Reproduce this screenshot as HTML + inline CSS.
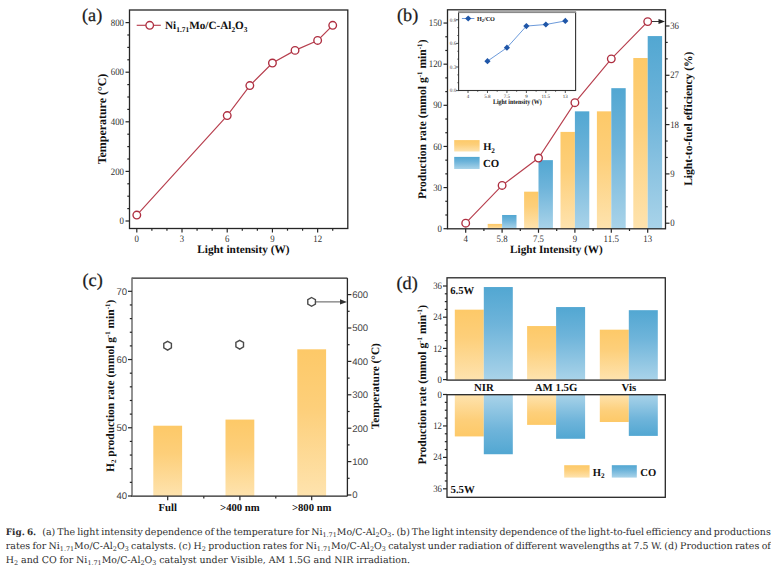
<!DOCTYPE html>
<html><head><meta charset="utf-8"><title>Fig. 6</title>
<style>
html,body{margin:0;padding:0;background:#fff;text-rendering:geometricPrecision;}
body{width:780px;height:570px;position:relative;overflow:hidden;}
svg{position:absolute;left:0;top:0;text-rendering:geometricPrecision;}
.cap{position:absolute;left:5.8px;top:0;width:765px;font-family:'DejaVu Serif','Liberation Serif',serif;font-size:9.45px;color:#2e2e2e;}
.cap .l{position:absolute;left:0;width:765px;height:14px;line-height:14px;white-space:nowrap;overflow:hidden;}
.cap .j{text-align:justify;text-align-last:justify;white-space:normal;word-spacing:-1.5px;}
.cap sub{font-size:6.4px;vertical-align:-1.9px;line-height:0;}
.cap b{font-weight:bold;font-size:8.9px;margin-right:2px;}
</style></head><body>
<svg width="780" height="570" viewBox="0 0 780 570">
<defs>
<linearGradient id="gH" x1="0" y1="0" x2="0" y2="1"><stop offset="0" stop-color="#fdc968"/><stop offset="0.4" stop-color="#fdcf7a"/><stop offset="1" stop-color="#fee3ae"/></linearGradient>
<linearGradient id="gC" x1="0" y1="0" x2="0" y2="1"><stop offset="0" stop-color="#52a7d2"/><stop offset="0.4" stop-color="#6eb4da"/><stop offset="1" stop-color="#a9d3e9"/></linearGradient>
<linearGradient id="gHr" x1="0" y1="1" x2="0" y2="0"><stop offset="0" stop-color="#fdc968"/><stop offset="0.4" stop-color="#fdcf7a"/><stop offset="1" stop-color="#fee3ae"/></linearGradient>
<linearGradient id="gCr" x1="0" y1="1" x2="0" y2="0"><stop offset="0" stop-color="#52a7d2"/><stop offset="0.4" stop-color="#6eb4da"/><stop offset="1" stop-color="#a9d3e9"/></linearGradient>
</defs>
<rect x="129.5" y="10.0" width="218.30" height="218.50" fill="none" stroke="#262626" stroke-width="1.3"/>
<line x1="136.80" y1="228.50" x2="136.80" y2="232.50" stroke="#262626" stroke-width="1.2" />
<text x="136.80" y="241.80" font-size="9.9" text-anchor="middle" font-family="'Liberation Serif', 'Times New Roman', serif" fill="#333333" textLength="4.40" lengthAdjust="spacingAndGlyphs">0</text>
<line x1="151.87" y1="228.50" x2="151.87" y2="230.70" stroke="#262626" stroke-width="1.2" />
<line x1="166.94" y1="228.50" x2="166.94" y2="230.70" stroke="#262626" stroke-width="1.2" />
<line x1="182.01" y1="228.50" x2="182.01" y2="232.50" stroke="#262626" stroke-width="1.2" />
<text x="182.01" y="241.80" font-size="9.9" text-anchor="middle" font-family="'Liberation Serif', 'Times New Roman', serif" fill="#333333" textLength="4.40" lengthAdjust="spacingAndGlyphs">3</text>
<line x1="197.08" y1="228.50" x2="197.08" y2="230.70" stroke="#262626" stroke-width="1.2" />
<line x1="212.15" y1="228.50" x2="212.15" y2="230.70" stroke="#262626" stroke-width="1.2" />
<line x1="227.22" y1="228.50" x2="227.22" y2="232.50" stroke="#262626" stroke-width="1.2" />
<text x="227.22" y="241.80" font-size="9.9" text-anchor="middle" font-family="'Liberation Serif', 'Times New Roman', serif" fill="#333333" textLength="4.40" lengthAdjust="spacingAndGlyphs">6</text>
<line x1="242.29" y1="228.50" x2="242.29" y2="230.70" stroke="#262626" stroke-width="1.2" />
<line x1="257.36" y1="228.50" x2="257.36" y2="230.70" stroke="#262626" stroke-width="1.2" />
<line x1="272.43" y1="228.50" x2="272.43" y2="232.50" stroke="#262626" stroke-width="1.2" />
<text x="272.43" y="241.80" font-size="9.9" text-anchor="middle" font-family="'Liberation Serif', 'Times New Roman', serif" fill="#333333" textLength="4.40" lengthAdjust="spacingAndGlyphs">9</text>
<line x1="287.50" y1="228.50" x2="287.50" y2="230.70" stroke="#262626" stroke-width="1.2" />
<line x1="302.57" y1="228.50" x2="302.57" y2="230.70" stroke="#262626" stroke-width="1.2" />
<line x1="317.64" y1="228.50" x2="317.64" y2="232.50" stroke="#262626" stroke-width="1.2" />
<text x="317.64" y="241.80" font-size="9.9" text-anchor="middle" font-family="'Liberation Serif', 'Times New Roman', serif" fill="#333333" textLength="8.80" lengthAdjust="spacingAndGlyphs">12</text>
<line x1="332.71" y1="228.50" x2="332.71" y2="230.70" stroke="#262626" stroke-width="1.2" />
<line x1="129.50" y1="221.00" x2="125.50" y2="221.00" stroke="#262626" stroke-width="1.2" />
<text x="124.00" y="224.10" font-size="9.9" text-anchor="end" font-family="'Liberation Serif', 'Times New Roman', serif" fill="#333333" textLength="4.40" lengthAdjust="spacingAndGlyphs">0</text>
<line x1="129.50" y1="208.60" x2="127.30" y2="208.60" stroke="#262626" stroke-width="1.2" />
<line x1="129.50" y1="196.20" x2="127.30" y2="196.20" stroke="#262626" stroke-width="1.2" />
<line x1="129.50" y1="183.80" x2="127.30" y2="183.80" stroke="#262626" stroke-width="1.2" />
<line x1="129.50" y1="171.40" x2="125.50" y2="171.40" stroke="#262626" stroke-width="1.2" />
<text x="124.00" y="174.50" font-size="9.9" text-anchor="end" font-family="'Liberation Serif', 'Times New Roman', serif" fill="#333333" textLength="13.20" lengthAdjust="spacingAndGlyphs">200</text>
<line x1="129.50" y1="159.00" x2="127.30" y2="159.00" stroke="#262626" stroke-width="1.2" />
<line x1="129.50" y1="146.60" x2="127.30" y2="146.60" stroke="#262626" stroke-width="1.2" />
<line x1="129.50" y1="134.20" x2="127.30" y2="134.20" stroke="#262626" stroke-width="1.2" />
<line x1="129.50" y1="121.80" x2="125.50" y2="121.80" stroke="#262626" stroke-width="1.2" />
<text x="124.00" y="124.90" font-size="9.9" text-anchor="end" font-family="'Liberation Serif', 'Times New Roman', serif" fill="#333333" textLength="13.20" lengthAdjust="spacingAndGlyphs">400</text>
<line x1="129.50" y1="109.40" x2="127.30" y2="109.40" stroke="#262626" stroke-width="1.2" />
<line x1="129.50" y1="97.00" x2="127.30" y2="97.00" stroke="#262626" stroke-width="1.2" />
<line x1="129.50" y1="84.60" x2="127.30" y2="84.60" stroke="#262626" stroke-width="1.2" />
<line x1="129.50" y1="72.20" x2="125.50" y2="72.20" stroke="#262626" stroke-width="1.2" />
<text x="124.00" y="75.30" font-size="9.9" text-anchor="end" font-family="'Liberation Serif', 'Times New Roman', serif" fill="#333333" textLength="13.20" lengthAdjust="spacingAndGlyphs">600</text>
<line x1="129.50" y1="59.80" x2="127.30" y2="59.80" stroke="#262626" stroke-width="1.2" />
<line x1="129.50" y1="47.40" x2="127.30" y2="47.40" stroke="#262626" stroke-width="1.2" />
<line x1="129.50" y1="35.00" x2="127.30" y2="35.00" stroke="#262626" stroke-width="1.2" />
<line x1="129.50" y1="22.60" x2="125.50" y2="22.60" stroke="#262626" stroke-width="1.2" />
<text x="124.00" y="25.70" font-size="9.9" text-anchor="end" font-family="'Liberation Serif', 'Times New Roman', serif" fill="#333333" textLength="13.20" lengthAdjust="spacingAndGlyphs">800</text>
<polyline points="136.80,215.05 227.22,115.60 249.83,85.59 272.43,63.02 295.04,50.38 317.64,40.46 332.71,25.33" fill="none" stroke="#b73f4e" stroke-width="1.15"/>
<circle cx="136.80" cy="215.05" r="3.8" fill="#fff" stroke="#ae2e40" stroke-width="1.35"/>
<circle cx="227.22" cy="115.60" r="3.8" fill="#fff" stroke="#ae2e40" stroke-width="1.35"/>
<circle cx="249.83" cy="85.59" r="3.8" fill="#fff" stroke="#ae2e40" stroke-width="1.35"/>
<circle cx="272.43" cy="63.02" r="3.8" fill="#fff" stroke="#ae2e40" stroke-width="1.35"/>
<circle cx="295.04" cy="50.38" r="3.8" fill="#fff" stroke="#ae2e40" stroke-width="1.35"/>
<circle cx="317.64" cy="40.46" r="3.8" fill="#fff" stroke="#ae2e40" stroke-width="1.35"/>
<circle cx="332.71" cy="25.33" r="3.8" fill="#fff" stroke="#ae2e40" stroke-width="1.35"/>
<line x1="136.70" y1="25.30" x2="160.80" y2="25.30" stroke="#b73f4e" stroke-width="1.15" />
<circle cx="149.7" cy="25.3" r="3.8" fill="#fff" stroke="#ae2e40" stroke-width="1.35"/>
<text x="165" y="28.8" font-size="11.2" font-family="'Liberation Serif', 'Times New Roman', serif" font-weight="bold" fill="#111">Ni<tspan font-size="7.4" dy="2.8">1.71</tspan><tspan dy="-2.8">Mo/C-Al</tspan><tspan font-size="7.4" dy="2.8">2</tspan><tspan dy="-2.8">O</tspan><tspan font-size="7.4" dy="2.8">3</tspan></text>
<text x="243.40" y="252.60" font-size="11.3" text-anchor="middle" font-family="'Liberation Serif', 'Times New Roman', serif" font-weight="bold" fill="#111" >Light intensity (W)</text>
<text transform="translate(106.4,119.0) rotate(-90)" font-size="11.95" text-anchor="middle" font-family="'Liberation Serif', 'Times New Roman', serif" font-weight="bold" fill="#111">Temperature (°C)</text>
<text x="82.00" y="21.20" font-size="18.2" text-anchor="start" font-family="'Liberation Serif', 'Times New Roman', serif" font-weight="normal" fill="#1a1a1a" stroke="#1a1a1a" stroke-width="0.25">(a)</text>
<rect x="487.70" y="223.90" width="14.4" height="4.80" fill="url(#gH)"/>
<rect x="502.10" y="214.99" width="14.4" height="13.71" fill="url(#gC)"/>
<rect x="524.10" y="191.68" width="14.4" height="37.02" fill="url(#gH)"/>
<rect x="538.50" y="160.15" width="14.4" height="68.55" fill="url(#gC)"/>
<rect x="560.50" y="131.91" width="14.4" height="96.79" fill="url(#gH)"/>
<rect x="574.90" y="111.34" width="14.4" height="117.36" fill="url(#gC)"/>
<rect x="596.90" y="111.34" width="14.4" height="117.36" fill="url(#gH)"/>
<rect x="611.30" y="88.17" width="14.4" height="140.53" fill="url(#gC)"/>
<rect x="633.30" y="58.01" width="14.4" height="170.69" fill="url(#gH)"/>
<rect x="647.70" y="36.07" width="14.4" height="192.63" fill="url(#gC)"/>
<rect x="447.5" y="9.8" width="218.00" height="219.00" fill="none" stroke="#262626" stroke-width="1.3"/>
<line x1="465.70" y1="228.80" x2="465.70" y2="232.80" stroke="#262626" stroke-width="1.2" />
<text x="465.70" y="241.90" font-size="9.9" text-anchor="middle" font-family="'Liberation Serif', 'Times New Roman', serif" fill="#333333" textLength="4.40" lengthAdjust="spacingAndGlyphs">4</text>
<line x1="483.90" y1="228.80" x2="483.90" y2="231.00" stroke="#262626" stroke-width="1.2" />
<line x1="502.10" y1="228.80" x2="502.10" y2="232.80" stroke="#262626" stroke-width="1.2" />
<text x="502.10" y="241.90" font-size="9.9" text-anchor="middle" font-family="'Liberation Serif', 'Times New Roman', serif" fill="#333333" textLength="11.00" lengthAdjust="spacingAndGlyphs">5.8</text>
<line x1="520.30" y1="228.80" x2="520.30" y2="231.00" stroke="#262626" stroke-width="1.2" />
<line x1="538.50" y1="228.80" x2="538.50" y2="232.80" stroke="#262626" stroke-width="1.2" />
<text x="538.50" y="241.90" font-size="9.9" text-anchor="middle" font-family="'Liberation Serif', 'Times New Roman', serif" fill="#333333" textLength="11.00" lengthAdjust="spacingAndGlyphs">7.5</text>
<line x1="556.70" y1="228.80" x2="556.70" y2="231.00" stroke="#262626" stroke-width="1.2" />
<line x1="574.90" y1="228.80" x2="574.90" y2="232.80" stroke="#262626" stroke-width="1.2" />
<text x="574.90" y="241.90" font-size="9.9" text-anchor="middle" font-family="'Liberation Serif', 'Times New Roman', serif" fill="#333333" textLength="4.40" lengthAdjust="spacingAndGlyphs">9</text>
<line x1="593.10" y1="228.80" x2="593.10" y2="231.00" stroke="#262626" stroke-width="1.2" />
<line x1="611.30" y1="228.80" x2="611.30" y2="232.80" stroke="#262626" stroke-width="1.2" />
<text x="611.30" y="241.90" font-size="9.9" text-anchor="middle" font-family="'Liberation Serif', 'Times New Roman', serif" fill="#333333" textLength="15.40" lengthAdjust="spacingAndGlyphs">11.5</text>
<line x1="629.50" y1="228.80" x2="629.50" y2="231.00" stroke="#262626" stroke-width="1.2" />
<line x1="647.70" y1="228.80" x2="647.70" y2="232.80" stroke="#262626" stroke-width="1.2" />
<text x="647.70" y="241.90" font-size="9.9" text-anchor="middle" font-family="'Liberation Serif', 'Times New Roman', serif" fill="#333333" textLength="8.80" lengthAdjust="spacingAndGlyphs">13</text>
<line x1="447.50" y1="228.70" x2="443.50" y2="228.70" stroke="#262626" stroke-width="1.2" />
<text x="442.00" y="231.80" font-size="9.9" text-anchor="end" font-family="'Liberation Serif', 'Times New Roman', serif" fill="#333333" textLength="4.40" lengthAdjust="spacingAndGlyphs">0</text>
<line x1="447.50" y1="214.99" x2="445.30" y2="214.99" stroke="#262626" stroke-width="1.2" />
<line x1="447.50" y1="201.28" x2="445.30" y2="201.28" stroke="#262626" stroke-width="1.2" />
<line x1="447.50" y1="187.57" x2="443.50" y2="187.57" stroke="#262626" stroke-width="1.2" />
<text x="442.00" y="190.67" font-size="9.9" text-anchor="end" font-family="'Liberation Serif', 'Times New Roman', serif" fill="#333333" textLength="8.80" lengthAdjust="spacingAndGlyphs">30</text>
<line x1="447.50" y1="173.86" x2="445.30" y2="173.86" stroke="#262626" stroke-width="1.2" />
<line x1="447.50" y1="160.15" x2="445.30" y2="160.15" stroke="#262626" stroke-width="1.2" />
<line x1="447.50" y1="146.44" x2="443.50" y2="146.44" stroke="#262626" stroke-width="1.2" />
<text x="442.00" y="149.54" font-size="9.9" text-anchor="end" font-family="'Liberation Serif', 'Times New Roman', serif" fill="#333333" textLength="8.80" lengthAdjust="spacingAndGlyphs">60</text>
<line x1="447.50" y1="132.73" x2="445.30" y2="132.73" stroke="#262626" stroke-width="1.2" />
<line x1="447.50" y1="119.02" x2="445.30" y2="119.02" stroke="#262626" stroke-width="1.2" />
<line x1="447.50" y1="105.31" x2="443.50" y2="105.31" stroke="#262626" stroke-width="1.2" />
<text x="442.00" y="108.41" font-size="9.9" text-anchor="end" font-family="'Liberation Serif', 'Times New Roman', serif" fill="#333333" textLength="8.80" lengthAdjust="spacingAndGlyphs">90</text>
<line x1="447.50" y1="91.60" x2="445.30" y2="91.60" stroke="#262626" stroke-width="1.2" />
<line x1="447.50" y1="77.89" x2="445.30" y2="77.89" stroke="#262626" stroke-width="1.2" />
<line x1="447.50" y1="64.18" x2="443.50" y2="64.18" stroke="#262626" stroke-width="1.2" />
<text x="442.00" y="67.28" font-size="9.9" text-anchor="end" font-family="'Liberation Serif', 'Times New Roman', serif" fill="#333333" textLength="13.20" lengthAdjust="spacingAndGlyphs">120</text>
<line x1="447.50" y1="50.47" x2="445.30" y2="50.47" stroke="#262626" stroke-width="1.2" />
<line x1="447.50" y1="36.76" x2="445.30" y2="36.76" stroke="#262626" stroke-width="1.2" />
<line x1="447.50" y1="23.05" x2="443.50" y2="23.05" stroke="#262626" stroke-width="1.2" />
<text x="442.00" y="26.15" font-size="9.9" text-anchor="end" font-family="'Liberation Serif', 'Times New Roman', serif" fill="#333333" textLength="13.20" lengthAdjust="spacingAndGlyphs">150</text>
<line x1="665.50" y1="223.20" x2="669.50" y2="223.20" stroke="#262626" stroke-width="1.2" />
<text x="670.20" y="226.30" font-size="9.9" text-anchor="start" font-family="'Liberation Serif', 'Times New Roman', serif" fill="#333333" textLength="4.40" lengthAdjust="spacingAndGlyphs">0</text>
<line x1="665.50" y1="206.77" x2="667.70" y2="206.77" stroke="#262626" stroke-width="1.2" />
<line x1="665.50" y1="190.33" x2="667.70" y2="190.33" stroke="#262626" stroke-width="1.2" />
<line x1="665.50" y1="173.90" x2="669.50" y2="173.90" stroke="#262626" stroke-width="1.2" />
<text x="670.20" y="177.00" font-size="9.9" text-anchor="start" font-family="'Liberation Serif', 'Times New Roman', serif" fill="#333333" textLength="4.40" lengthAdjust="spacingAndGlyphs">9</text>
<line x1="665.50" y1="157.46" x2="667.70" y2="157.46" stroke="#262626" stroke-width="1.2" />
<line x1="665.50" y1="141.03" x2="667.70" y2="141.03" stroke="#262626" stroke-width="1.2" />
<line x1="665.50" y1="124.60" x2="669.50" y2="124.60" stroke="#262626" stroke-width="1.2" />
<text x="670.20" y="127.70" font-size="9.9" text-anchor="start" font-family="'Liberation Serif', 'Times New Roman', serif" fill="#333333" textLength="8.80" lengthAdjust="spacingAndGlyphs">18</text>
<line x1="665.50" y1="108.16" x2="667.70" y2="108.16" stroke="#262626" stroke-width="1.2" />
<line x1="665.50" y1="91.73" x2="667.70" y2="91.73" stroke="#262626" stroke-width="1.2" />
<line x1="665.50" y1="75.29" x2="669.50" y2="75.29" stroke="#262626" stroke-width="1.2" />
<text x="670.20" y="78.39" font-size="9.9" text-anchor="start" font-family="'Liberation Serif', 'Times New Roman', serif" fill="#333333" textLength="8.80" lengthAdjust="spacingAndGlyphs">27</text>
<line x1="665.50" y1="58.86" x2="667.70" y2="58.86" stroke="#262626" stroke-width="1.2" />
<line x1="665.50" y1="42.43" x2="667.70" y2="42.43" stroke="#262626" stroke-width="1.2" />
<line x1="665.50" y1="25.99" x2="669.50" y2="25.99" stroke="#262626" stroke-width="1.2" />
<text x="670.20" y="29.09" font-size="9.9" text-anchor="start" font-family="'Liberation Serif', 'Times New Roman', serif" fill="#333333" textLength="8.80" lengthAdjust="spacingAndGlyphs">36</text>
<polyline points="465.70,223.20 502.10,185.40 538.50,158.01 574.90,102.68 611.30,58.86 647.70,21.61" fill="none" stroke="#b73f4e" stroke-width="1.15"/>
<circle cx="465.70" cy="223.20" r="3.8" fill="#fff" stroke="#ae2e40" stroke-width="1.35"/>
<circle cx="502.10" cy="185.40" r="3.8" fill="#fff" stroke="#ae2e40" stroke-width="1.35"/>
<circle cx="538.50" cy="158.01" r="3.8" fill="#fff" stroke="#ae2e40" stroke-width="1.35"/>
<circle cx="574.90" cy="102.68" r="3.8" fill="#fff" stroke="#ae2e40" stroke-width="1.35"/>
<circle cx="611.30" cy="58.86" r="3.8" fill="#fff" stroke="#ae2e40" stroke-width="1.35"/>
<circle cx="647.70" cy="21.61" r="3.8" fill="#fff" stroke="#ae2e40" stroke-width="1.35"/>
<line x1="652.00" y1="21.50" x2="660.00" y2="21.50" stroke="#222" stroke-width="0.9" />
<polygon points="665,21.5 658.5,19 658.5,24" fill="#222"/>
<rect x="454.2" y="140.1" width="25.4" height="11.4" fill="url(#gH)"/>
<rect x="454.2" y="156.9" width="25.4" height="12.1" fill="url(#gC)"/>
<text x="483.2" y="149.8" font-size="10.5" font-family="'Liberation Serif', 'Times New Roman', serif" font-weight="bold" fill="#111">H<tspan font-size="7.2" dy="3">2</tspan></text>
<text x="483.00" y="166.90" font-size="10.8" text-anchor="start" font-family="'Liberation Serif', 'Times New Roman', serif" font-weight="bold" fill="#111" >CO</text>
<text x="556.40" y="253.40" font-size="11.2" text-anchor="middle" font-family="'Liberation Serif', 'Times New Roman', serif" font-weight="bold" fill="#111" >Light Intensity (W)</text>
<text transform="translate(426.4,119.3) rotate(-90)" font-size="11.6" text-anchor="middle" font-family="'Liberation Serif', 'Times New Roman', serif" font-weight="bold" fill="#111">Production rate (mmol g<tspan font-size="7" dy="-4">-1</tspan><tspan dy="4"> min</tspan><tspan font-size="7" dy="-4">-1</tspan><tspan dy="4">)</tspan></text>
<text transform="translate(692.2,118.75) rotate(-90)" font-size="11.5" text-anchor="middle" font-family="'Liberation Serif', 'Times New Roman', serif" font-weight="bold" fill="#111">Light-to-fuel efficiency (%)</text>
<text x="397.00" y="21.20" font-size="18.2" text-anchor="start" font-family="'Liberation Serif', 'Times New Roman', serif" font-weight="normal" fill="#1a1a1a" stroke="#1a1a1a" stroke-width="0.25">(b)</text>
<rect x="458.6" y="12.5" width="117.0" height="78.0" fill="#fff" stroke="#333" stroke-width="1.1"/>
<line x1="458.10" y1="11.60" x2="576.10" y2="11.60" stroke="#a8a8a8" stroke-width="2.2" />
<line x1="468.00" y1="90.50" x2="468.00" y2="93.00" stroke="#262626" stroke-width="0.8" />
<text x="468.00" y="97.90" font-size="5.0" text-anchor="middle" font-family="'Liberation Serif', 'Times New Roman', serif" font-weight="normal" fill="#333333" >4</text>
<line x1="477.73" y1="90.50" x2="477.73" y2="91.80" stroke="#262626" stroke-width="0.7" />
<line x1="487.46" y1="90.50" x2="487.46" y2="93.00" stroke="#262626" stroke-width="0.8" />
<text x="487.46" y="97.90" font-size="5.0" text-anchor="middle" font-family="'Liberation Serif', 'Times New Roman', serif" font-weight="normal" fill="#333333" >5.8</text>
<line x1="497.19" y1="90.50" x2="497.19" y2="91.80" stroke="#262626" stroke-width="0.7" />
<line x1="506.92" y1="90.50" x2="506.92" y2="93.00" stroke="#262626" stroke-width="0.8" />
<text x="506.92" y="97.90" font-size="5.0" text-anchor="middle" font-family="'Liberation Serif', 'Times New Roman', serif" font-weight="normal" fill="#333333" >7.5</text>
<line x1="516.65" y1="90.50" x2="516.65" y2="91.80" stroke="#262626" stroke-width="0.7" />
<line x1="526.38" y1="90.50" x2="526.38" y2="93.00" stroke="#262626" stroke-width="0.8" />
<text x="526.38" y="97.90" font-size="5.0" text-anchor="middle" font-family="'Liberation Serif', 'Times New Roman', serif" font-weight="normal" fill="#333333" >9</text>
<line x1="536.11" y1="90.50" x2="536.11" y2="91.80" stroke="#262626" stroke-width="0.7" />
<line x1="545.84" y1="90.50" x2="545.84" y2="93.00" stroke="#262626" stroke-width="0.8" />
<text x="545.84" y="97.90" font-size="5.0" text-anchor="middle" font-family="'Liberation Serif', 'Times New Roman', serif" font-weight="normal" fill="#333333" >11.5</text>
<line x1="555.57" y1="90.50" x2="555.57" y2="91.80" stroke="#262626" stroke-width="0.7" />
<line x1="565.30" y1="90.50" x2="565.30" y2="93.00" stroke="#262626" stroke-width="0.8" />
<text x="565.30" y="97.90" font-size="5.0" text-anchor="middle" font-family="'Liberation Serif', 'Times New Roman', serif" font-weight="normal" fill="#333333" >13</text>
<line x1="458.60" y1="90.60" x2="456.10" y2="90.60" stroke="#262626" stroke-width="0.8" />
<text x="456.30" y="92.40" font-size="5.2" text-anchor="end" font-family="'Liberation Serif', 'Times New Roman', serif" font-weight="normal" fill="#333333" >0.0</text>
<line x1="458.60" y1="82.73" x2="457.30" y2="82.73" stroke="#262626" stroke-width="0.7" />
<line x1="458.60" y1="74.86" x2="457.30" y2="74.86" stroke="#262626" stroke-width="0.7" />
<line x1="458.60" y1="66.99" x2="456.10" y2="66.99" stroke="#262626" stroke-width="0.8" />
<text x="456.30" y="68.79" font-size="5.2" text-anchor="end" font-family="'Liberation Serif', 'Times New Roman', serif" font-weight="normal" fill="#333333" >0.3</text>
<line x1="458.60" y1="59.12" x2="457.30" y2="59.12" stroke="#262626" stroke-width="0.7" />
<line x1="458.60" y1="51.25" x2="457.30" y2="51.25" stroke="#262626" stroke-width="0.7" />
<line x1="458.60" y1="43.38" x2="456.10" y2="43.38" stroke="#262626" stroke-width="0.8" />
<text x="456.30" y="45.18" font-size="5.2" text-anchor="end" font-family="'Liberation Serif', 'Times New Roman', serif" font-weight="normal" fill="#333333" >0.6</text>
<line x1="458.60" y1="35.51" x2="457.30" y2="35.51" stroke="#262626" stroke-width="0.7" />
<line x1="458.60" y1="27.64" x2="457.30" y2="27.64" stroke="#262626" stroke-width="0.7" />
<line x1="458.60" y1="19.77" x2="456.10" y2="19.77" stroke="#262626" stroke-width="0.8" />
<text x="456.30" y="21.57" font-size="5.2" text-anchor="end" font-family="'Liberation Serif', 'Times New Roman', serif" font-weight="normal" fill="#333333" >0.9</text>
<polyline points="487.46,61.17 506.92,47.71 526.38,26.07 545.84,24.49 565.30,20.95" fill="none" stroke="#5b8fd6" stroke-width="0.9"/>
<polygon points="487.46,58.07 490.56,61.17 487.46,64.27 484.36,61.17" fill="#1f56a8"/>
<polygon points="506.92,44.61 510.02,47.71 506.92,50.81 503.82,47.71" fill="#1f56a8"/>
<polygon points="526.38,22.97 529.48,26.07 526.38,29.17 523.28,26.07" fill="#1f56a8"/>
<polygon points="545.84,21.39 548.94,24.49 545.84,27.59 542.74,24.49" fill="#1f56a8"/>
<polygon points="565.30,17.85 568.40,20.95 565.30,24.05 562.20,20.95" fill="#1f56a8"/>
<line x1="461.90" y1="18.50" x2="474.40" y2="18.50" stroke="#5b8fd6" stroke-width="0.9" />
<polygon points="468.20,15.40 471.30,18.50 468.20,21.60 465.10,18.50" fill="#1f56a8"/>
<text x="476.9" y="20.6" font-size="6.2" font-family="'Liberation Serif', 'Times New Roman', serif" font-weight="bold" fill="#111">H<tspan font-size="4.4" dy="1.5">2</tspan><tspan dy="-1.5">/CO</tspan></text>
<text x="517.30" y="103.90" font-size="6.85" text-anchor="middle" font-family="'Liberation Serif', 'Times New Roman', serif" font-weight="bold" fill="#111" textLength="48.8" lengthAdjust="spacingAndGlyphs">Light intensity (W)</text>
<rect x="153.30" y="425.72" width="28.8" height="70.28" fill="url(#gH)"/>
<rect x="225.50" y="419.58" width="28.8" height="76.42" fill="url(#gH)"/>
<rect x="297.30" y="349.31" width="28.8" height="146.69" fill="url(#gH)"/>
<line x1="132.00" y1="278.10" x2="347.40" y2="278.10" stroke="#262626" stroke-width="1.3" />
<line x1="347.40" y1="278.10" x2="347.40" y2="496.20" stroke="#262626" stroke-width="1.3" />
<line x1="131.40" y1="496.20" x2="347.40" y2="496.20" stroke="#262626" stroke-width="1.3" />
<line x1="132.00" y1="277.50" x2="132.00" y2="496.80" stroke="#6e6e6e" stroke-width="1.5" />
<line x1="167.70" y1="496.20" x2="167.70" y2="500.20" stroke="#262626" stroke-width="1.2" />
<line x1="239.90" y1="496.20" x2="239.90" y2="500.20" stroke="#262626" stroke-width="1.2" />
<line x1="311.70" y1="496.20" x2="311.70" y2="500.20" stroke="#262626" stroke-width="1.2" />
<line x1="203.80" y1="496.20" x2="203.80" y2="498.40" stroke="#262626" stroke-width="1.2" />
<line x1="275.80" y1="496.20" x2="275.80" y2="498.40" stroke="#262626" stroke-width="1.2" />
<text x="167.70" y="511.40" font-size="10.7" text-anchor="middle" font-family="'Liberation Serif', 'Times New Roman', serif" font-weight="bold" fill="#111" >Full</text>
<text x="239.90" y="511.40" font-size="10.7" text-anchor="middle" font-family="'Liberation Serif', 'Times New Roman', serif" font-weight="bold" fill="#111" >&gt;400 nm</text>
<text x="311.70" y="511.40" font-size="10.7" text-anchor="middle" font-family="'Liberation Serif', 'Times New Roman', serif" font-weight="bold" fill="#111" >&gt;800 nm</text>
<line x1="132.00" y1="496.00" x2="128.00" y2="496.00" stroke="#262626" stroke-width="1.2" />
<text x="127.20" y="499.40" font-size="9.6" text-anchor="end" font-family="'Liberation Sans', Arial, sans-serif" font-weight="normal" fill="#444" >40</text>
<line x1="132.00" y1="482.35" x2="129.80" y2="482.35" stroke="#262626" stroke-width="1.2" />
<line x1="132.00" y1="468.71" x2="129.80" y2="468.71" stroke="#262626" stroke-width="1.2" />
<line x1="132.00" y1="455.06" x2="129.80" y2="455.06" stroke="#262626" stroke-width="1.2" />
<line x1="132.00" y1="441.42" x2="129.80" y2="441.42" stroke="#262626" stroke-width="1.2" />
<line x1="132.00" y1="427.77" x2="128.00" y2="427.77" stroke="#262626" stroke-width="1.2" />
<text x="127.20" y="431.17" font-size="9.6" text-anchor="end" font-family="'Liberation Sans', Arial, sans-serif" font-weight="normal" fill="#444" >50</text>
<line x1="132.00" y1="414.12" x2="129.80" y2="414.12" stroke="#262626" stroke-width="1.2" />
<line x1="132.00" y1="400.48" x2="129.80" y2="400.48" stroke="#262626" stroke-width="1.2" />
<line x1="132.00" y1="386.83" x2="129.80" y2="386.83" stroke="#262626" stroke-width="1.2" />
<line x1="132.00" y1="373.19" x2="129.80" y2="373.19" stroke="#262626" stroke-width="1.2" />
<line x1="132.00" y1="359.54" x2="128.00" y2="359.54" stroke="#262626" stroke-width="1.2" />
<text x="127.20" y="362.94" font-size="9.6" text-anchor="end" font-family="'Liberation Sans', Arial, sans-serif" font-weight="normal" fill="#444" >60</text>
<line x1="132.00" y1="345.89" x2="129.80" y2="345.89" stroke="#262626" stroke-width="1.2" />
<line x1="132.00" y1="332.25" x2="129.80" y2="332.25" stroke="#262626" stroke-width="1.2" />
<line x1="132.00" y1="318.60" x2="129.80" y2="318.60" stroke="#262626" stroke-width="1.2" />
<line x1="132.00" y1="304.96" x2="129.80" y2="304.96" stroke="#262626" stroke-width="1.2" />
<line x1="132.00" y1="291.31" x2="128.00" y2="291.31" stroke="#262626" stroke-width="1.2" />
<text x="127.20" y="294.71" font-size="9.6" text-anchor="end" font-family="'Liberation Sans', Arial, sans-serif" font-weight="normal" fill="#444" >70</text>
<line x1="347.40" y1="495.00" x2="351.40" y2="495.00" stroke="#262626" stroke-width="1.2" />
<text x="352.20" y="498.40" font-size="9.6" text-anchor="start" font-family="'Liberation Sans', Arial, sans-serif" font-weight="normal" fill="#444" >0</text>
<line x1="347.40" y1="478.30" x2="349.60" y2="478.30" stroke="#262626" stroke-width="1.2" />
<line x1="347.40" y1="461.60" x2="351.40" y2="461.60" stroke="#262626" stroke-width="1.2" />
<text x="352.20" y="465.00" font-size="9.6" text-anchor="start" font-family="'Liberation Sans', Arial, sans-serif" font-weight="normal" fill="#444" >100</text>
<line x1="347.40" y1="444.90" x2="349.60" y2="444.90" stroke="#262626" stroke-width="1.2" />
<line x1="347.40" y1="428.20" x2="351.40" y2="428.20" stroke="#262626" stroke-width="1.2" />
<text x="352.20" y="431.60" font-size="9.6" text-anchor="start" font-family="'Liberation Sans', Arial, sans-serif" font-weight="normal" fill="#444" >200</text>
<line x1="347.40" y1="411.50" x2="349.60" y2="411.50" stroke="#262626" stroke-width="1.2" />
<line x1="347.40" y1="394.80" x2="351.40" y2="394.80" stroke="#262626" stroke-width="1.2" />
<text x="352.20" y="398.20" font-size="9.6" text-anchor="start" font-family="'Liberation Sans', Arial, sans-serif" font-weight="normal" fill="#444" >300</text>
<line x1="347.40" y1="378.10" x2="349.60" y2="378.10" stroke="#262626" stroke-width="1.2" />
<line x1="347.40" y1="361.40" x2="351.40" y2="361.40" stroke="#262626" stroke-width="1.2" />
<text x="352.20" y="364.80" font-size="9.6" text-anchor="start" font-family="'Liberation Sans', Arial, sans-serif" font-weight="normal" fill="#444" >400</text>
<line x1="347.40" y1="344.70" x2="349.60" y2="344.70" stroke="#262626" stroke-width="1.2" />
<line x1="347.40" y1="328.00" x2="351.40" y2="328.00" stroke="#262626" stroke-width="1.2" />
<text x="352.20" y="331.40" font-size="9.6" text-anchor="start" font-family="'Liberation Sans', Arial, sans-serif" font-weight="normal" fill="#444" >500</text>
<line x1="347.40" y1="311.30" x2="349.60" y2="311.30" stroke="#262626" stroke-width="1.2" />
<line x1="347.40" y1="294.60" x2="351.40" y2="294.60" stroke="#262626" stroke-width="1.2" />
<text x="352.20" y="298.00" font-size="9.6" text-anchor="start" font-family="'Liberation Sans', Arial, sans-serif" font-weight="normal" fill="#444" >600</text>
<polygon points="167.60,341.30 171.41,343.50 171.41,347.90 167.60,350.10 163.79,347.90 163.79,343.50" fill="#fff" stroke="#4a4a4a" stroke-width="1.4"/>
<polygon points="239.70,340.30 243.51,342.50 243.51,346.90 239.70,349.10 235.89,346.90 235.89,342.50" fill="#fff" stroke="#4a4a4a" stroke-width="1.4"/>
<polygon points="311.60,297.50 315.41,299.70 315.41,304.10 311.60,306.30 307.79,304.10 307.79,299.70" fill="#fff" stroke="#4a4a4a" stroke-width="1.4"/>
<line x1="316.00" y1="301.90" x2="341.00" y2="301.90" stroke="#444" stroke-width="0.9" />
<polygon points="347,301.9 340,299.3 340,304.5" fill="#333"/>
<text transform="translate(113.9,385.8) rotate(-90)" font-size="11.45" text-anchor="middle" font-family="'Liberation Serif', 'Times New Roman', serif" font-weight="bold" fill="#111">H<tspan font-size="7" dy="2.5">2</tspan><tspan dy="-2.5"> production rate (mmol g</tspan><tspan font-size="7" dy="-4">-1</tspan><tspan dy="4"> min</tspan><tspan font-size="7" dy="-4">-1</tspan><tspan dy="4">)</tspan></text>
<text transform="translate(379.4,386.2) rotate(-90)" font-size="11.35" text-anchor="middle" font-family="'Liberation Serif', 'Times New Roman', serif" font-weight="bold" fill="#111">Temperature (°C)</text>
<text x="82.50" y="286.30" font-size="18.2" text-anchor="start" font-family="'Liberation Serif', 'Times New Roman', serif" font-weight="normal" fill="#1a1a1a" stroke="#1a1a1a" stroke-width="0.25">(c)</text>
<rect x="454.80" y="309.66" width="29.0" height="69.94" fill="url(#gH)"/>
<rect x="483.80" y="287.04" width="29.0" height="92.56" fill="url(#gC)"/>
<rect x="454.80" y="394.50" width="29.0" height="41.92" fill="url(#gHr)"/>
<rect x="483.80" y="394.50" width="29.0" height="59.74" fill="url(#gCr)"/>
<rect x="527.10" y="326.04" width="29.0" height="53.56" fill="url(#gH)"/>
<rect x="556.10" y="307.06" width="29.0" height="72.54" fill="url(#gC)"/>
<rect x="527.10" y="394.50" width="29.0" height="30.39" fill="url(#gHr)"/>
<rect x="556.10" y="394.50" width="29.0" height="44.28" fill="url(#gCr)"/>
<rect x="599.80" y="329.68" width="29.0" height="49.92" fill="url(#gH)"/>
<rect x="628.80" y="310.18" width="29.0" height="69.42" fill="url(#gC)"/>
<rect x="599.80" y="394.50" width="29.0" height="27.51" fill="url(#gHr)"/>
<rect x="628.80" y="394.50" width="29.0" height="41.40" fill="url(#gCr)"/>
<rect x="447.0" y="277.8" width="218.30" height="102.30" fill="none" stroke="#262626" stroke-width="1.3"/>
<rect x="447.0" y="394.7" width="218.30" height="102.60" fill="none" stroke="#262626" stroke-width="1.3"/>
<line x1="447.00" y1="379.60" x2="443.00" y2="379.60" stroke="#262626" stroke-width="1.2" />
<text x="442.00" y="382.70" font-size="9.9" text-anchor="end" font-family="'Liberation Serif', 'Times New Roman', serif" fill="#333333" textLength="4.40" lengthAdjust="spacingAndGlyphs">0</text>
<line x1="447.00" y1="394.50" x2="443.00" y2="394.50" stroke="#262626" stroke-width="1.2" />
<text x="442.00" y="397.60" font-size="9.9" text-anchor="end" font-family="'Liberation Serif', 'Times New Roman', serif" fill="#333333" textLength="4.40" lengthAdjust="spacingAndGlyphs">0</text>
<line x1="447.00" y1="371.80" x2="444.80" y2="371.80" stroke="#262626" stroke-width="1.2" />
<line x1="447.00" y1="402.36" x2="444.80" y2="402.36" stroke="#262626" stroke-width="1.2" />
<line x1="447.00" y1="364.00" x2="444.80" y2="364.00" stroke="#262626" stroke-width="1.2" />
<line x1="447.00" y1="410.22" x2="444.80" y2="410.22" stroke="#262626" stroke-width="1.2" />
<line x1="447.00" y1="356.20" x2="444.80" y2="356.20" stroke="#262626" stroke-width="1.2" />
<line x1="447.00" y1="418.08" x2="444.80" y2="418.08" stroke="#262626" stroke-width="1.2" />
<line x1="447.00" y1="348.40" x2="443.00" y2="348.40" stroke="#262626" stroke-width="1.2" />
<text x="442.00" y="351.50" font-size="9.9" text-anchor="end" font-family="'Liberation Serif', 'Times New Roman', serif" fill="#333333" textLength="8.80" lengthAdjust="spacingAndGlyphs">12</text>
<line x1="447.00" y1="425.94" x2="443.00" y2="425.94" stroke="#262626" stroke-width="1.2" />
<text x="442.00" y="429.04" font-size="9.9" text-anchor="end" font-family="'Liberation Serif', 'Times New Roman', serif" fill="#333333" textLength="8.80" lengthAdjust="spacingAndGlyphs">12</text>
<line x1="447.00" y1="340.60" x2="444.80" y2="340.60" stroke="#262626" stroke-width="1.2" />
<line x1="447.00" y1="433.80" x2="444.80" y2="433.80" stroke="#262626" stroke-width="1.2" />
<line x1="447.00" y1="332.80" x2="444.80" y2="332.80" stroke="#262626" stroke-width="1.2" />
<line x1="447.00" y1="441.66" x2="444.80" y2="441.66" stroke="#262626" stroke-width="1.2" />
<line x1="447.00" y1="325.00" x2="444.80" y2="325.00" stroke="#262626" stroke-width="1.2" />
<line x1="447.00" y1="449.52" x2="444.80" y2="449.52" stroke="#262626" stroke-width="1.2" />
<line x1="447.00" y1="317.20" x2="443.00" y2="317.20" stroke="#262626" stroke-width="1.2" />
<text x="442.00" y="320.30" font-size="9.9" text-anchor="end" font-family="'Liberation Serif', 'Times New Roman', serif" fill="#333333" textLength="8.80" lengthAdjust="spacingAndGlyphs">24</text>
<line x1="447.00" y1="457.38" x2="443.00" y2="457.38" stroke="#262626" stroke-width="1.2" />
<text x="442.00" y="460.48" font-size="9.9" text-anchor="end" font-family="'Liberation Serif', 'Times New Roman', serif" fill="#333333" textLength="8.80" lengthAdjust="spacingAndGlyphs">24</text>
<line x1="447.00" y1="309.40" x2="444.80" y2="309.40" stroke="#262626" stroke-width="1.2" />
<line x1="447.00" y1="465.24" x2="444.80" y2="465.24" stroke="#262626" stroke-width="1.2" />
<line x1="447.00" y1="301.60" x2="444.80" y2="301.60" stroke="#262626" stroke-width="1.2" />
<line x1="447.00" y1="473.10" x2="444.80" y2="473.10" stroke="#262626" stroke-width="1.2" />
<line x1="447.00" y1="293.80" x2="444.80" y2="293.80" stroke="#262626" stroke-width="1.2" />
<line x1="447.00" y1="480.96" x2="444.80" y2="480.96" stroke="#262626" stroke-width="1.2" />
<line x1="447.00" y1="286.00" x2="443.00" y2="286.00" stroke="#262626" stroke-width="1.2" />
<text x="442.00" y="289.10" font-size="9.9" text-anchor="end" font-family="'Liberation Serif', 'Times New Roman', serif" fill="#333333" textLength="8.80" lengthAdjust="spacingAndGlyphs">36</text>
<line x1="447.00" y1="488.82" x2="443.00" y2="488.82" stroke="#262626" stroke-width="1.2" />
<text x="442.00" y="491.92" font-size="9.9" text-anchor="end" font-family="'Liberation Serif', 'Times New Roman', serif" fill="#333333" textLength="8.80" lengthAdjust="spacingAndGlyphs">36</text>
<text x="483.80" y="391.20" font-size="10.8" text-anchor="middle" font-family="'Liberation Serif', 'Times New Roman', serif" font-weight="bold" fill="#111" >NIR</text>
<text x="556.10" y="391.20" font-size="10.8" text-anchor="middle" font-family="'Liberation Serif', 'Times New Roman', serif" font-weight="bold" fill="#111" >AM 1.5G</text>
<text x="628.80" y="391.20" font-size="10.8" text-anchor="middle" font-family="'Liberation Serif', 'Times New Roman', serif" font-weight="bold" fill="#111" >Vis</text>
<text x="450.20" y="293.80" font-size="10.6" text-anchor="start" font-family="'Liberation Serif', 'Times New Roman', serif" font-weight="bold" fill="#111" >6.5W</text>
<text x="450.50" y="492.50" font-size="10.8" text-anchor="start" font-family="'Liberation Serif', 'Times New Roman', serif" font-weight="bold" fill="#111" >5.5W</text>
<rect x="564.2" y="465.2" width="25.4" height="12.4" fill="url(#gH)"/>
<rect x="611.8" y="465.2" width="25" height="12.4" fill="url(#gC)"/>
<text x="592.8" y="475.5" font-size="10.6" font-family="'Liberation Serif', 'Times New Roman', serif" font-weight="bold" fill="#111">H<tspan font-size="7.2" dy="2.5">2</tspan></text>
<text x="640.30" y="475.50" font-size="10.6" text-anchor="start" font-family="'Liberation Serif', 'Times New Roman', serif" font-weight="bold" fill="#111" >CO</text>
<text transform="translate(426.3,384.8) rotate(-90)" font-size="11.6" text-anchor="middle" font-family="'Liberation Serif', 'Times New Roman', serif" font-weight="bold" fill="#111">Production rate (mmol g<tspan font-size="7" dy="-4">-1</tspan><tspan dy="4"> min</tspan><tspan font-size="7" dy="-4">-1</tspan><tspan dy="4">)</tspan></text>
<text x="396.50" y="289.20" font-size="18.2" text-anchor="start" font-family="'Liberation Serif', 'Times New Roman', serif" font-weight="normal" fill="#1a1a1a" stroke="#1a1a1a" stroke-width="0.25">(d)</text>
</svg>
<div class="cap">
<div class="l j" style="top:526.0px"><b>Fig. 6.</b>&nbsp; (a) The light intensity dependence of the temperature for Ni<sub>1.71</sub>Mo/C-Al<sub>2</sub>O<sub>3</sub>. (b) The light intensity dependence of the light-to-fuel efficiency and productions</div>
<div class="l j" style="top:540.1px">rates for Ni<sub>1.71</sub>Mo/C-Al<sub>2</sub>O<sub>3</sub> catalysts. (c) H<sub>2</sub> production rates for Ni<sub>1.71</sub>Mo/C-Al<sub>2</sub>O<sub>3</sub> catalyst under radiation of different wavelengths at 7.5 W. (d) Production rates of</div>
<div class="l" style="top:554.3px;word-spacing:-0.1px">H<sub>2</sub> and CO for Ni<sub>1.71</sub>Mo/C-Al<sub>2</sub>O<sub>3</sub> catalyst under Visible, AM 1.5G and NIR irradiation.</div>
</div>
</body></html>
